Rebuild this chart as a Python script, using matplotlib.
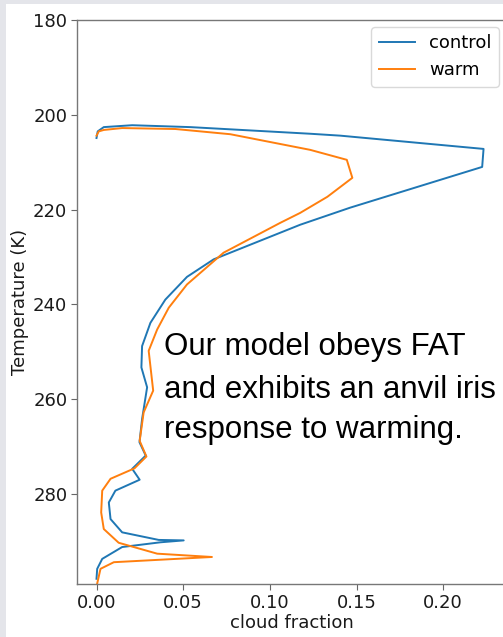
import matplotlib
matplotlib.use("Agg")
import matplotlib.pyplot as plt
from matplotlib.patches import Rectangle

plt.rcParams["font.family"] = ["DejaVu Sans"]

# control series (temperature K, cloud fraction)
control_T = [204.9, 203.5, 202.6, 202.2, 202.6, 204.0, 204.4, 207.2, 211.0, 219.6,
             223.2, 230.5, 234.2, 239.0, 243.9, 248.8, 253.3, 257.5, 264.2, 269.1,
             271.9, 274.7, 277.0, 279.3, 281.8, 285.3, 288.1, 289.7, 289.8, 290.2,
             291.2, 293.7, 295.8, 297.9]
control_cf = [0.000, 0.0007, 0.0042, 0.0206, 0.0541, 0.1233, 0.1406, 0.2233, 0.2225, 0.1463,
              0.1175, 0.0676, 0.0522, 0.0397, 0.0311, 0.0263, 0.0259, 0.0292, 0.0263, 0.0248,
              0.0284, 0.0206, 0.0249, 0.0109, 0.0071, 0.0081, 0.0148, 0.0359, 0.0503, 0.0369,
              0.0148, 0.0033, 0.0004, 0.0]

# warm series
warm_T = [204.4, 203.5, 203.2, 202.8, 203.0, 204.1, 207.4, 209.5, 213.3, 217.3,
          220.7, 222.8, 229.1, 235.8, 240.7, 245.3, 249.8, 258.2, 262.8, 268.8,
          272.1, 274.6, 276.8, 279.3, 283.9, 287.4, 290.3, 292.6, 293.3, 294.4,
          295.8, 298.9]
warm_cf = [0.0, 0.0013, 0.0042, 0.0148, 0.0455, 0.0772, 0.1233, 0.1444, 0.1476, 0.1332,
           0.1175, 0.1060, 0.0733, 0.0522, 0.0417, 0.0350, 0.0301, 0.0327, 0.0272, 0.0249,
           0.0288, 0.0219, 0.0081, 0.0033, 0.0027, 0.0042, 0.0128, 0.0350, 0.0666, 0.0100,
           0.0023, 0.0004]

x_ticks = [0.00, 0.05, 0.10, 0.15, 0.20]
y_ticks = [180, 200, 220, 240, 260, 280]
annotation_lines = ["Our model obeys FAT", "and exhibits an anvil iris", "response to warming."]

W, H = 503, 637
fig = plt.figure(figsize=(W / 100, H / 100), dpi=100)
fig.patch.set_facecolor("white")
# screenshot border strips
fig.patches.append(Rectangle((0, 1 - 4 / H), 1, 4 / H, transform=fig.transFigure,
                             facecolor="#e4e5ea", edgecolor="none", zorder=0))
fig.patches.append(Rectangle((0, 0), 6 / W, 1, transform=fig.transFigure,
                             facecolor="#e4e5ea", edgecolor="none", zorder=0))

left, right, top, bottom = 77, 506, 20, 584
ax = fig.add_axes([left / W, 1 - bottom / H, (right - left) / W, (bottom - top) / H])

ax.plot(control_cf, control_T, color="#1f77b4", lw=1.4, label="control")
ax.plot(warm_cf, warm_T, color="#ff7f0e", lw=1.4, label="warm")

ax.set_xlim(-0.01125, 0.23625)
ax.set_ylim(299.0, 180)
ax.set_xticks(x_ticks)
ax.set_xticklabels([f"{v:.2f}" for v in x_ticks])
ax.set_yticks(y_ticks)
ax.tick_params(labelsize=13, length=4, color="#666666", labelcolor="#1a1a1a", pad=3)
for s in ax.spines.values():
    s.set_color("#777777")
    s.set_linewidth(1.0)
ax.set_xlabel("cloud fraction", fontsize=13, color="#1a1a1a", labelpad=2)
ax.set_ylabel("Temperature (K)", fontsize=13, color="#1a1a1a", labelpad=3)

leg = ax.legend(loc="upper right", fontsize=13, frameon=True, borderaxespad=0.4)
leg.get_frame().set_edgecolor("#d0d0d0")

ys = [355, 398, 438]
for line, yb in zip(annotation_lines, ys):
    fig.text(164 / W, 1 - yb / H, line, fontsize=22.5, family="Liberation Sans",
             color="black", ha="left", va="baseline")

fig.savefig("out.png", dpi=100)
